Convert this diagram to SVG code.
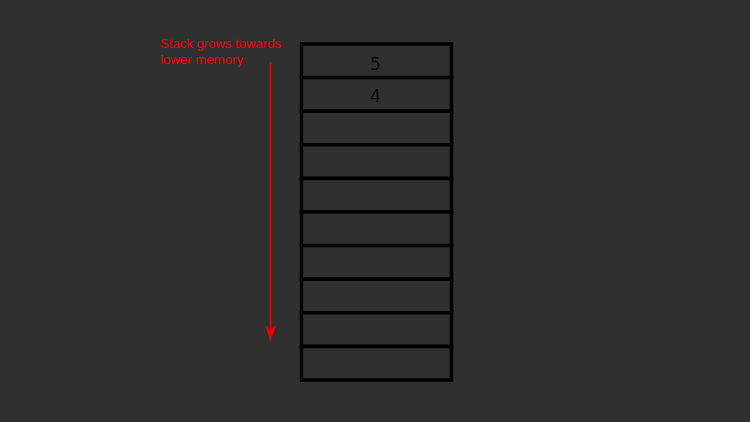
<svg xmlns="http://www.w3.org/2000/svg" width="750" height="422" viewBox="0 0 750 422">
<style>
.cell{fill:#303030;stroke:#000;stroke-width:3.5}
.num{font-family:"DejaVu Sans","Liberation Sans",sans-serif;font-size:17px;fill:#0a0a0a;text-anchor:middle}
.note{font-family:"Liberation Sans","DejaVu Sans",sans-serif;font-size:13px;fill:#ee0000}
</style>
<defs>
<marker id="ah" viewBox="0 0 16 10" refX="15" refY="5" markerWidth="16" markerHeight="10" markerUnits="userSpaceOnUse" orient="auto">
<path d="M0,0 L4,5 L0,10 L16,5 Z" fill="#ee0000"/>
</marker>
</defs>
<rect width="750" height="422" fill="#303030"/>
<g id="connectors">
<line x1="270.5" y1="62" x2="270.5" y2="341" stroke="#ee0000" stroke-width="1.5" marker-end="url(#ah)"/>
</g>
<g id="note">
<text class="note" x="160" y="48" textLength="121" lengthAdjust="spacingAndGlyphs">Stack grows towards</text>
<text class="note" x="160" y="64" textLength="83" lengthAdjust="spacingAndGlyphs">lower memory</text>
</g>
<g id="stack">
<g id="cell0"><rect class="cell" x="301.5" y="44" width="150" height="33.6"/><text class="num" x="375.5" y="69.5">5</text></g>
<g id="cell1"><rect class="cell" x="301.5" y="77.6" width="150" height="33.6"/><text class="num" x="375.5" y="102">4</text></g>
<g id="cell2"><rect class="cell" x="301.5" y="111.2" width="150" height="33.6"/></g>
<g id="cell3"><rect class="cell" x="301.5" y="144.8" width="150" height="33.6"/></g>
<g id="cell4"><rect class="cell" x="301.5" y="178.4" width="150" height="33.6"/></g>
<g id="cell5"><rect class="cell" x="301.5" y="212" width="150" height="33.6"/></g>
<g id="cell6"><rect class="cell" x="301.5" y="245.6" width="150" height="33.6"/></g>
<g id="cell7"><rect class="cell" x="301.5" y="279.2" width="150" height="33.6"/></g>
<g id="cell8"><rect class="cell" x="301.5" y="312.8" width="150" height="33.6"/></g>
<g id="cell9"><rect class="cell" x="301.5" y="346.4" width="150" height="33.6"/></g>
</g>
</svg>
